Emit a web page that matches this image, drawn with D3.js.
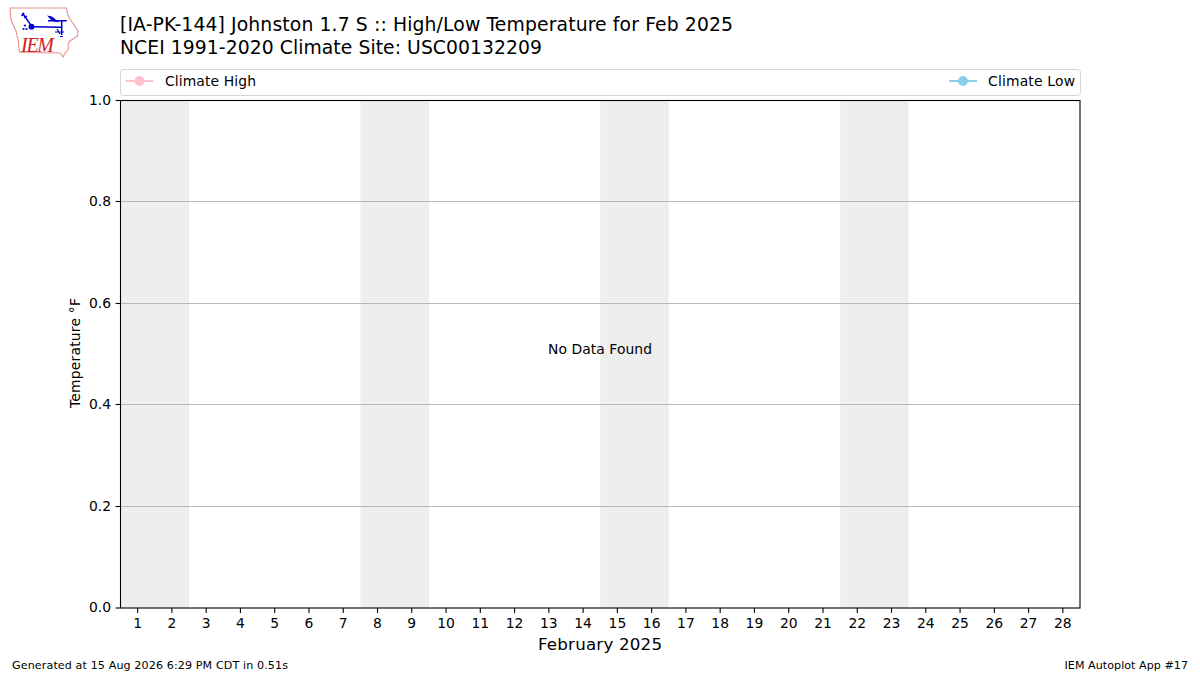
<!DOCTYPE html>
<html><head><meta charset="utf-8">
<script src="https://cdn.jsdelivr.net/npm/d3@7"></script>
<style>html,body{margin:0;padding:0;background:#fff}svg{display:block}text{font-family:"DejaVu Sans",sans-serif;fill:#000}</style>
</head><body><svg id="c" width="1200" height="675"></svg>
<script>
const days = d3.range(1, 29);
const weekendSpans = [[0.5, 2.5], [7.5, 9.5], [14.5, 16.5], [21.5, 23.5]];
const yTicks = [0, 0.2, 0.4, 0.6, 0.8, 1.0];
const titleLines = ["[IA-PK-144] Johnston 1.7 S :: High/Low Temperature for Feb 2025", "NCEI 1991-2020 Climate Site: USC00132209"];
const legendItems = ["Climate High", "Climate Low"];
const legendColors = ["#ffc0cb", "#87ceeb"];

const svg = d3.select("#c");
const L = 120.5, R = 1080, T = 100, B = 608;
const x = d3.scaleLinear().domain([0.5, 28.5]).range([L, R]);
const y = d3.scaleLinear().domain([0, 1]).range([B, T]);
const snapY = v => Math.floor(y(v)) + 0.5;

// weekend shading
svg.append("g").selectAll("rect").data(weekendSpans).join("rect")
  .attr("x", d => x(d[0])).attr("width", d => x(d[1]) - x(d[0]))
  .attr("y", T).attr("height", B - T).attr("fill", "#eeeeee");

// grid
svg.append("g").selectAll("line").data(yTicks.slice(1, 5)).join("line")
  .attr("x1", L).attr("x2", R)
  .attr("y1", snapY).attr("y2", snapY)
  .attr("stroke", "#b0b0b0").attr("stroke-width", 0.9);

// axes
const ax = svg.append("g").attr("transform", `translate(0,${B})`)
  .call(d3.axisBottom(x).offset(0).tickValues(days).tickFormat(d3.format("d")).tickSize(4.9).tickPadding(5));
const ay = svg.append("g").attr("transform", `translate(${L},0)`)
  .call(d3.axisLeft(y).offset(0).tickValues(yTicks).tickFormat(d3.format(".1f")).tickSize(4.9).tickPadding(4.5));
ay.selectAll(".tick").attr("transform", d => `translate(0,${d === 1 ? T + 0.5 : d === 0 ? B : snapY(d)})`);
[ax, ay].forEach(g => {
  g.select(".domain").remove();
  g.selectAll("text").style("font-family", '"DejaVu Sans",sans-serif').style("font-size", "13.9px").attr("fill", "#000");
  g.selectAll("line").attr("stroke", "#000").attr("stroke-width", 1.1);
});
svg.append("rect").attr("x", L).attr("y", T + 0.5).attr("width", R - L).attr("height", B - T - 0.5)
  .attr("fill", "none").attr("stroke", "#000").attr("stroke-width", 1.1);

// labels
svg.append("text").attr("transform", "translate(79.5,353) rotate(-90)").attr("text-anchor", "middle")
  .attr("textLength", 110).style("font-size", "13.9px").text("Temperature °F");
svg.append("text").attr("x", 600).attr("y", 650).attr("text-anchor", "middle")
  .attr("textLength", 124).style("font-size", "16.7px").text("February 2025");
svg.append("text").attr("x", 600).attr("y", 354).attr("text-anchor", "middle")
  .attr("textLength", 104).style("font-size", "13.9px").text("No Data Found");

// titles
const titleWidths = [613, 422];
svg.selectAll("text.t").data(titleLines).join("text").attr("class", "t")
  .attr("x", 120).attr("y", (d, i) => 31 + i * 23).attr("textLength", (d, i) => titleWidths[i])
  .style("font-size", "18.8px").text(d => d);

// footer
svg.append("text").attr("x", 12).attr("y", 669).attr("textLength", 276).style("font-size", "11.1px").text("Generated at 15 Aug 2026 6:29 PM CDT in 0.51s");
svg.append("text").attr("x", 1188).attr("y", 669).attr("text-anchor", "end").attr("textLength", 123.5).style("font-size", "11.1px").text("IEM Autoplot App #17");

// legend
svg.append("rect").attr("x", 120.5).attr("y", 69.5).attr("width", 960).attr("height", 26).attr("rx", 3)
  .attr("fill", "#fff").attr("stroke", "#d5d5d5").attr("stroke-width", 1);
const lx = [125.5, 949], tx = [165, 988], tw = [91, 87];
legendItems.forEach((name, i) => {
  svg.append("line").attr("x1", lx[i]).attr("x2", lx[i] + 28).attr("y1", 81).attr("y2", 81)
    .attr("stroke", legendColors[i]).attr("stroke-width", 1.9);
  svg.append("circle").attr("cx", lx[i] + 14).attr("cy", 81).attr("r", 4.9).attr("fill", legendColors[i]);
  svg.append("text").attr("x", tx[i]).attr("y", 86).attr("textLength", tw[i]).style("font-size", "13.9px").text(name);
});

// logo
const logo = svg.append("g");
logo.append("path").attr("d", "M10,8 L66.5,8 L68,15.5 L72,22 L78,31 L77.5,36 L70,41 L68,44 L68.5,49 L65,53 L63,57 L60,53 L22,52.5 L19.5,52 L18,40 L16,31 L11,20 Z")
  .attr("fill", "#fff").attr("stroke", "#ea8f8f").attr("stroke-width", 1.1);
logo.append("path").attr("d", "M31.5,26.7 L61.7,27.2 M48,20.7 L66.7,20.7 M61.7,20.7 L61.7,35 M22.5,13 L30.5,24.7 M21.5,16 L24,13 M24,18 L27,16")
  .attr("stroke", "#0000cc").attr("stroke-width", 1.5).attr("fill", "none");
logo.append("path").attr("d", "M47,15.5 L52,16.5 L59.5,22.5 L52,21 Z").attr("fill", "#0000cc");
logo.append("circle").attr("cx", 31.5).attr("cy", 26.7).attr("r", 2.9).attr("fill", "#0000cc");
logo.append("path").attr("d", "M55,32 L64,32 M57,29 L60,34 M60,36.5 L63,36.5").attr("stroke", "#0000cc").attr("stroke-width", 1.2);
logo.selectAll("circle.d").data([[25,25.5],[23.5,29],[26.5,29]]).join("circle").attr("class", "d")
  .attr("cx", d => d[0]).attr("cy", d => d[1]).attr("r", 1.1).attr("fill", "#0000cc");
logo.append("text").attr("x", 21).attr("y", 52).attr("textLength", 33).style("font-family", '"Liberation Serif",serif')
  .style("font-style", "italic").style("font-size", "20px").style("fill", "#d01c1c").text("IEM");
</script></body></html>
